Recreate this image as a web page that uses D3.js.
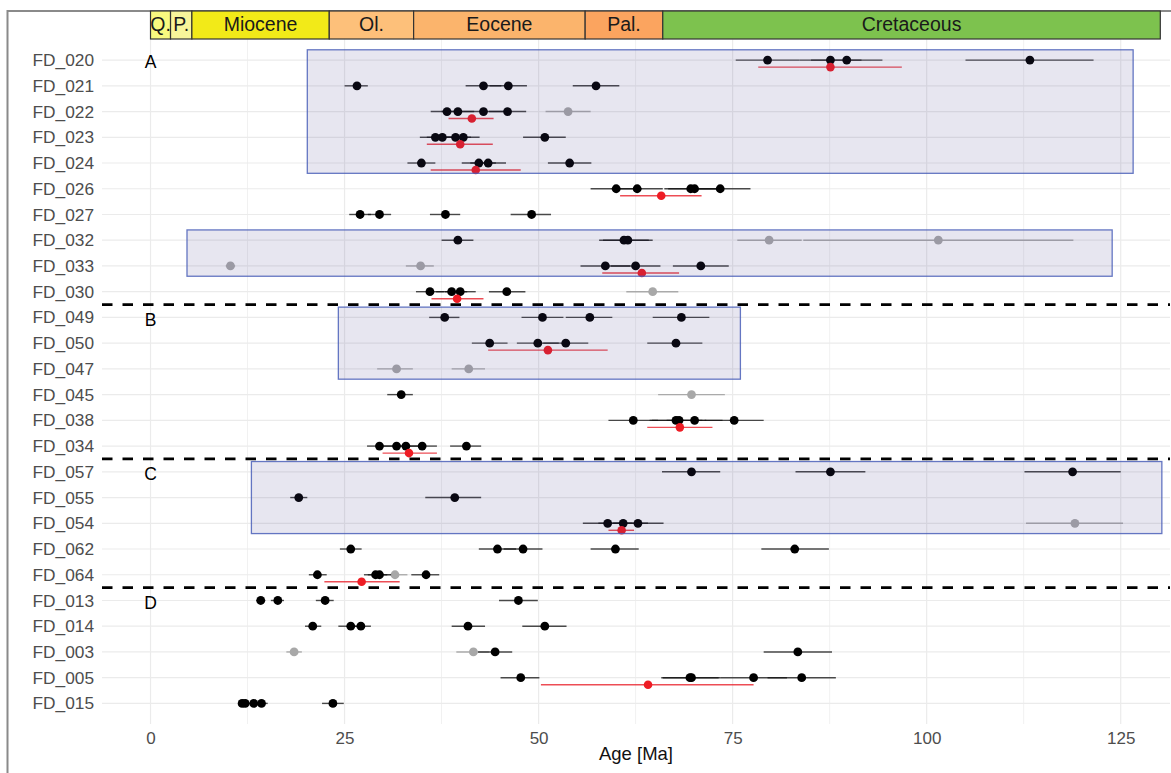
<!DOCTYPE html>
<html>
<head>
<meta charset="utf-8">
<script src="https://cdn.jsdelivr.net/npm/d3@7"></script>
<style>
  body { margin: 0; background: #fff; }
  text { font-family: "Liberation Sans", Arial, sans-serif; }
</style>
</head>
<body>
<svg width="1171" height="773"></svg>
<script>
var svg = d3.select("svg"),
    width = +svg.attr("width"),
    height = +svg.attr("height");

// samples, top to bottom
var samples = ["FD_020","FD_021","FD_022","FD_023","FD_024","FD_026","FD_027","FD_032","FD_033","FD_030",
               "FD_049","FD_050","FD_047","FD_045","FD_038","FD_034",
               "FD_057","FD_055","FD_054","FD_062","FD_064",
               "FD_013","FD_014","FD_003","FD_005","FD_015"];

// group letters and the sample after which a dashed divider is drawn
var groupLabels = [["A","FD_020"],["B","FD_049"],["C","FD_057"],["D","FD_013"]];
var dividersAfter = ["FD_030","FD_034","FD_064"];

// epochs [name, start Ma, end Ma, colour]
var epochs = [
  ["Q.", 0, 2.58, "#f9f97f"],
  ["P.", 2.58, 5.33, "#f8f59a"],
  ["Miocene", 5.33, 23.03, "#f2ea18"],
  ["Ol.", 23.03, 33.9, "#fdc07a"],
  ["Eocene", 33.9, 56.0, "#fbb46c"],
  ["Pal.", 56.0, 66.0, "#fba45f"],
  ["Cretaceous", 66.0, 130.1, "#7dc24e"]
];

// shaded boxes [first sample, last sample, min Ma, max Ma]
var boxes = [
  ["FD_020","FD_024", 20.2, 126.6],
  ["FD_032","FD_033", 4.7, 123.9],
  ["FD_049","FD_047", 24.2, 76.0],
  ["FD_057","FD_054", 13.0, 130.3]
];

// single-grain ages [sample, age, lower, upper]
var grainAges = [
  ["FD_020",79.5,75.4,83.6],["FD_020",87.6,83.6,91.6],["FD_020",89.7,85.1,94.3],["FD_020",113.3,105.0,121.5],
  ["FD_021",26.6,25.0,28.0],["FD_021",42.9,40.6,45.2],["FD_021",46.1,43.7,48.5],["FD_021",57.4,54.4,60.4],
  ["FD_022",38.2,36.1,40.3],["FD_022",39.6,37.5,41.7],["FD_022",42.9,40.3,45.5],["FD_022",46.0,43.6,48.4],
  ["FD_023",36.7,34.7,38.7],["FD_023",37.6,35.6,39.6],["FD_023",39.3,37.3,41.3],["FD_023",40.3,38.2,42.4],["FD_023",50.8,48.0,53.5],
  ["FD_024",34.9,33.1,36.7],["FD_024",42.3,40.1,44.5],["FD_024",43.5,41.2,45.8],["FD_024",54.0,51.2,56.8],
  ["FD_026",60.0,56.7,63.3],["FD_026",62.7,59.4,66.0],["FD_026",69.6,66.2,73.0],["FD_026",70.1,66.7,73.5],["FD_026",73.4,69.5,77.3],
  ["FD_027",27.0,25.6,28.4],["FD_027",29.5,28.0,31.0],["FD_027",38.0,36.0,39.9],["FD_027",49.1,46.4,51.6],
  ["FD_032",39.6,37.5,41.6],["FD_032",61.0,57.8,64.2],["FD_032",61.5,58.3,64.7],
  ["FD_033",58.6,55.4,61.8],["FD_033",62.5,59.3,65.7],["FD_033",70.9,67.3,74.5],
  ["FD_030",36.0,34.2,37.8],["FD_030",38.8,36.8,40.8],["FD_030",39.9,37.9,41.9],["FD_030",45.9,43.6,48.3],
  ["FD_049",37.9,35.9,39.8],["FD_049",50.5,47.8,53.2],["FD_049",56.6,53.5,59.5],["FD_049",68.4,64.7,72.0],
  ["FD_050",43.7,41.4,46.0],["FD_050",49.9,47.2,52.6],["FD_050",53.5,50.6,56.4],["FD_050",67.7,64.0,71.1],
  ["FD_045",32.3,30.5,33.8],
  ["FD_038",62.2,59.0,65.4],["FD_038",67.7,64.3,71.1],["FD_038",68.1,64.6,71.6],["FD_038",70.1,66.5,73.7],["FD_038",75.2,71.4,79.0],
  ["FD_034",29.5,27.9,31.1],["FD_034",31.7,30.0,33.4],["FD_034",32.9,31.1,34.7],["FD_034",35.0,33.1,36.9],["FD_034",40.7,38.6,42.6],
  ["FD_057",69.7,65.9,73.4],["FD_057",87.6,83.1,92.1],["FD_057",118.8,112.6,125.0],
  ["FD_055",19.1,18.0,20.2],["FD_055",39.2,35.4,42.6],
  ["FD_054",58.9,55.7,62.1],["FD_054",60.9,57.7,64.1],["FD_054",62.8,59.6,66.1],
  ["FD_062",25.8,24.4,27.2],["FD_062",44.7,42.3,47.1],["FD_062",48.0,45.5,50.5],["FD_062",59.9,56.7,62.9],["FD_062",83.0,78.7,87.4],
  ["FD_064",21.5,20.4,22.7],["FD_064",29.0,27.5,30.5],["FD_064",29.5,28.0,31.0],["FD_064",35.5,33.6,37.2],
  ["FD_013",14.2,13.6,14.8],["FD_013",16.4,15.5,17.2],["FD_013",22.5,21.3,23.6],["FD_013",47.4,44.9,49.9],
  ["FD_014",20.9,19.9,22.0],["FD_014",25.8,24.2,27.3],["FD_014",27.1,25.7,28.4],["FD_014",40.9,38.8,43.1],["FD_014",50.8,47.9,53.6],
  ["FD_003",44.4,42.2,46.6],["FD_003",83.4,79.0,87.8],
  ["FD_005",47.7,45.1,50.1],["FD_005",69.5,65.8,73.2],["FD_005",69.7,66.0,73.4],["FD_005",77.7,73.4,82.0],["FD_005",83.9,79.5,88.3],
  ["FD_015",11.8,11.3,12.3],["FD_015",12.2,11.6,12.8],["FD_015",13.3,12.6,14.0],["FD_015",14.3,13.6,15.1],["FD_015",23.5,22.1,24.9]
];

// rejected grains (grey)
var rejectedAges = [
  ["FD_022",53.8,50.9,56.7],
  ["FD_032",79.7,75.6,83.9],["FD_032",101.5,84.1,118.9],
  ["FD_033",10.3,9.7,10.9],["FD_033",34.8,32.9,36.5],
  ["FD_030",64.7,61.3,68.0],
  ["FD_047",31.7,29.2,33.8],["FD_047",41.0,38.8,43.1],
  ["FD_045",69.7,65.4,74.0],
  ["FD_054",119.1,112.8,125.3],
  ["FD_064",31.5,30.0,33.1],
  ["FD_003",18.5,17.5,19.5],["FD_003",41.6,39.4,43.6]
];

// pooled ages (red)
var pooledAges = [
  ["FD_020",87.6,78.3,96.8],["FD_022",41.4,38.4,44.2],["FD_023",39.9,35.6,44.1],["FD_024",41.9,36.1,47.7],
  ["FD_026",65.8,60.5,71.0],["FD_033",63.3,58.2,68.1],["FD_030",39.5,36.2,42.9],["FD_050",51.2,43.5,58.9],
  ["FD_038",68.2,64.0,72.4],["FD_034",33.3,29.9,36.9],["FD_054",60.7,59.0,62.3],["FD_064",27.2,22.4,32.1],
  ["FD_005",64.1,50.3,77.7]
];

var xTicks = [0, 25, 50, 75, 100, 125];

var panel = {left: 102, right: 1170, top: 39.5, bottom: 724};

var x = d3.scaleLinear().domain([-6.25, 131.35]).range([panel.left, panel.right]);
var y = d3.scalePoint().domain(samples).range([panel.top, panel.bottom]).padding(0.8);
var step = y.step();

// outer frame
svg.append("rect")
    .attr("x", 7.5).attr("y", 11).attr("width", 1180).attr("height", 780)
    .attr("fill", "none").attr("stroke", "#8a8a8a").attr("stroke-width", 2);

// grid
var grid = svg.append("g");
grid.selectAll(".minor")
    .data(d3.range(-12.5, 140, 25).filter(function(d) { return x(d) >= panel.left && x(d) <= panel.right; }))
    .enter().append("line")
    .attr("x1", function(d) { return x(d); }).attr("x2", function(d) { return x(d); })
    .attr("y1", panel.top).attr("y2", panel.bottom)
    .attr("stroke", "#f1f1f1").attr("stroke-width", 1);
grid.selectAll(".major")
    .data(xTicks)
    .enter().append("line")
    .attr("x1", function(d) { return x(d); }).attr("x2", function(d) { return x(d); })
    .attr("y1", panel.top).attr("y2", panel.bottom)
    .attr("stroke", "#ebebeb").attr("stroke-width", 1.2);
grid.selectAll(".hrow")
    .data(samples)
    .enter().append("line")
    .attr("x1", panel.left).attr("x2", panel.right)
    .attr("y1", function(d) { return y(d); }).attr("y2", function(d) { return y(d); })
    .attr("stroke", "#ebebeb").attr("stroke-width", 1.2);

// axis labels
svg.append("g").selectAll("text")
    .data(samples)
    .enter().append("text")
    .attr("x", 94).attr("y", function(d) { return y(d); })
    .attr("dy", "0.35em").attr("text-anchor", "end")
    .attr("font-size", 17.3).attr("fill", "#4d4d4d")
    .text(function(d) { return d; });

var xAxis = svg.append("g")
    .attr("transform", "translate(0," + panel.bottom + ")")
    .call(d3.axisBottom(x).tickValues(xTicks).tickSize(0).tickPadding(8));
xAxis.select(".domain").remove();
xAxis.selectAll("text")
    .attr("font-family", "Liberation Sans, Arial, sans-serif")
    .attr("font-size", 17).attr("fill", "#4d4d4d");

svg.append("text")
    .attr("x", (panel.left + panel.right) / 2).attr("y", 760)
    .attr("text-anchor", "middle").attr("font-size", 18.5).attr("fill", "#111")
    .text("Age [Ma]");

// epoch band
var band = svg.append("g");
band.selectAll("rect")
    .data(epochs)
    .enter().append("rect")
    .attr("x", function(d) { return x(d[1]); })
    .attr("width", function(d) { return x(d[2]) - x(d[1]); })
    .attr("y", 11).attr("height", 28)
    .attr("fill", function(d) { return d[3]; })
    .attr("stroke", "#333").attr("stroke-width", 1.2);
band.selectAll("text")
    .data(epochs)
    .enter().append("text")
    .attr("x", function(d) { return (x(d[1]) + x(d[2])) / 2; })
    .attr("y", 24.5).attr("dy", "0.35em")
    .attr("text-anchor", "middle").attr("font-size", 19.5).attr("fill", "#1a1a1a")
    .attr("textLength", function(d) { return d[0].length <= 2 ? null : null; })
    .text(function(d) { return d[0]; });

// error bars and points
function drawAges(data, opts) {
    var g = svg.append("g");
    g.selectAll("line")
        .data(data)
        .enter().append("line")
        .attr("x1", function(d) { return x(d[2]); })
        .attr("x2", function(d) { return x(d[3]); })
        .attr("y1", function(d) { return y(d[0]) + opts.dy; })
        .attr("y2", function(d) { return y(d[0]) + opts.dy; })
        .attr("stroke", opts.bar).attr("stroke-opacity", opts.barOpacity)
        .attr("stroke-width", 1.4);
    g.selectAll("circle")
        .data(data)
        .enter().append("circle")
        .attr("cx", function(d) { return x(d[1]); })
        .attr("cy", function(d) { return y(d[0]) + opts.dy; })
        .attr("r", opts.r)
        .attr("fill", opts.fill);
}

drawAges(rejectedAges, {dy: 0, bar: "#9a9a9a", barOpacity: 0.8, fill: "#a8a8a8", r: 4.4});
drawAges(grainAges, {dy: 0, bar: "#111", barOpacity: 0.75, fill: "#000", r: 4.4});
drawAges(pooledAges, {dy: 7, bar: "#e8202a", barOpacity: 0.8, fill: "#ee1c24", r: 4.3});

// shaded boxes drawn over the points
svg.append("g").selectAll("rect")
    .data(boxes)
    .enter().append("rect")
    .attr("x", function(d) { return x(d[2]); })
    .attr("width", function(d) { return x(d[3]) - x(d[2]); })
    .attr("y", function(d) { return y(d[0]) - 0.4 * step; })
    .attr("height", function(d) { return y(d[1]) - y(d[0]) + 0.8 * step; })
    .attr("fill", "#483d8b").attr("fill-opacity", 0.13)
    .attr("stroke", "#4a5fb8").attr("stroke-opacity", 0.85).attr("stroke-width", 1.3);

// dividers
svg.append("g").selectAll("line")
    .data(dividersAfter)
    .enter().append("line")
    .attr("x1", panel.left).attr("x2", panel.right)
    .attr("y1", function(d) { return y(d) + step / 2; })
    .attr("y2", function(d) { return y(d) + step / 2; })
    .attr("stroke", "#000").attr("stroke-width", 2.8)
    .attr("stroke-dasharray", "10.5,10");

// group letters
svg.append("g").selectAll("text")
    .data(groupLabels)
    .enter().append("text")
    .attr("x", x(0)).attr("y", function(d) { return y(d[1]) + 2; })
    .attr("dy", "0.35em").attr("text-anchor", "middle")
    .attr("font-size", 17.5).attr("fill", "#000")
    .text(function(d) { return d[0]; });
</script>
</body>
</html>
